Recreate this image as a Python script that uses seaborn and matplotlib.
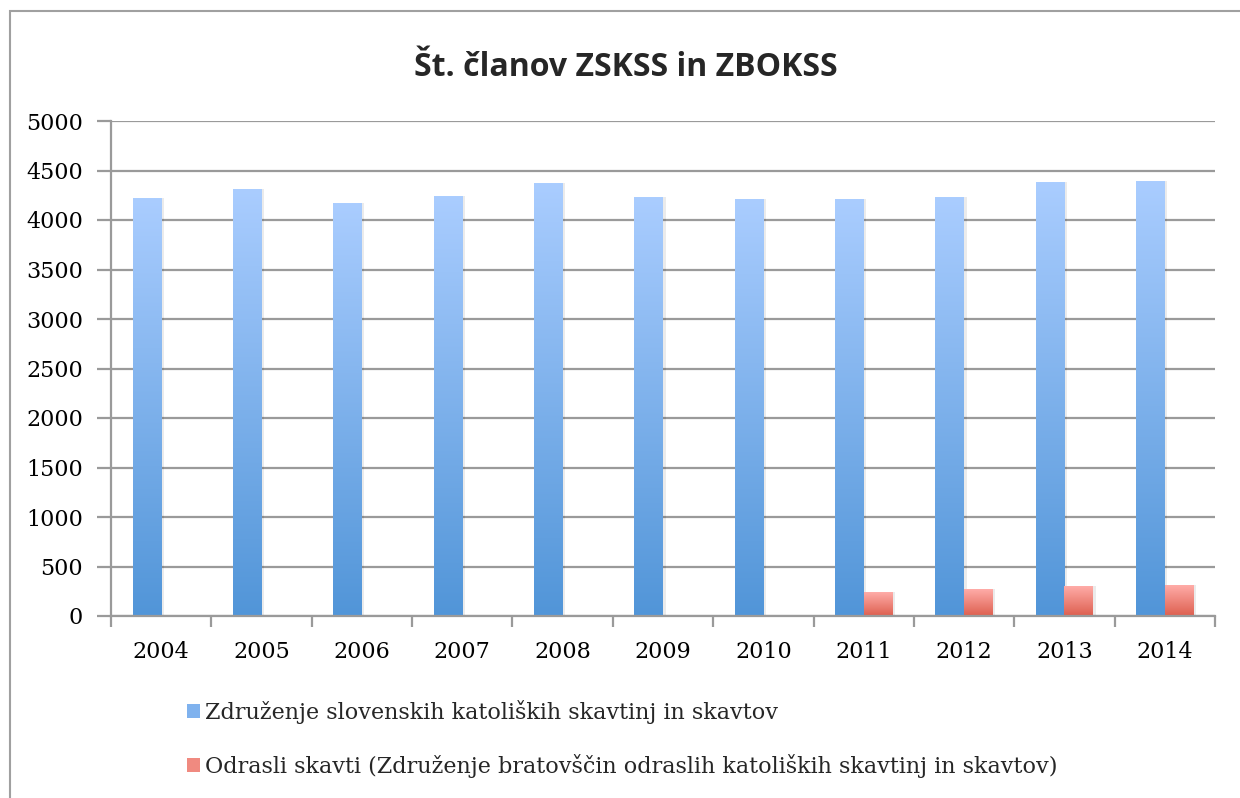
import numpy as np
import pandas as pd
import seaborn as sns
import matplotlib
import matplotlib.pyplot as plt
from matplotlib.colors import LinearSegmentedColormap
from matplotlib.patches import Patch, Rectangle
matplotlib.use('Agg')

sns.set_theme(style="white")
plt.rcParams['font.family'] = ['DejaVu Serif', 'Liberation Serif']

# data
years = ['2004', '2005', '2006', '2007', '2008', '2009', '2010', '2011', '2012', '2013', '2014']
zskss = [4220, 4310, 4170, 4240, 4370, 4230, 4210, 4210, 4230, 4380, 4390]
zbokss = [np.nan, np.nan, np.nan, np.nan, np.nan, np.nan, np.nan, 240, 270, 300, 310]
series = ['Združenje slovenskih katoliških skavtinj in skavtov',
          'Odrasli skavti (Združenje bratovščin odraslih katoliških skavtinj in skavtov)']

df = pd.DataFrame({
    'leto': years * 2,
    'serija': [series[0]] * len(years) + [series[1]] * len(years),
    'clani': zskss + zbokss,
})

grad_cols = {series[0]: ('#5195d8', '#aacdff'), series[1]: ('#dd5f4f', '#ffaca8')}
mid_cols = {series[0]: '#7fb2ee', series[1]: '#f08a80'}

fig = plt.figure(figsize=(12.4, 7.98), dpi=100)
ax = fig.add_axes([111 / 1240, 1 - 616 / 798, (1215 - 111) / 1240, (616 - 121) / 798])

sns.barplot(data=df, x='leto', y='clani', hue='serija', hue_order=series,
            order=years, palette=mid_cols, width=0.57, ax=ax, legend=False,
            linewidth=0, saturation=1)

# gradient fill of bars
for patch, ser in zip(ax.patches, [s for s in series for _ in years]):
    h = patch.get_height()
    if not np.isfinite(h) or h <= 0:
        continue
    x0 = patch.get_x()
    w = patch.get_width()
    cmap = LinearSegmentedColormap.from_list('g', grad_cols[ser])
    # soft shadow on the right
    ax.add_patch(Rectangle((x0 + w, 0), 0.025, h, facecolor='#000000', alpha=0.08,
                           linewidth=0, zorder=1.5))
    im = ax.imshow(np.linspace(0, 1, 256).reshape(-1, 1), cmap=cmap, origin='lower',
                   extent=(x0, x0 + w, 0, h), aspect='auto', zorder=2)
    im.set_clip_path(patch)
    patch.set_facecolor('none')

ax.set_xlim(-0.5, len(years) - 0.5)
ax.set_ylim(0, 5000)

ax.set_yticks(range(0, 5001, 500))
ax.yaxis.grid(True, color='#9a9a9a', linewidth=1.6)
ax.set_axisbelow(True)
ax.set_xlabel('')
ax.set_ylabel('')

for s in ['top', 'right']:
    ax.spines[s].set_visible(False)
for s in ['left', 'bottom']:
    ax.spines[s].set_color('#9a9a9a')
    ax.spines[s].set_linewidth(1.6)

ax.tick_params(axis='y', left=True, length=10, width=1.6, color='#9a9a9a',
               labelsize=16, pad=10, labelcolor='black')
ax.tick_params(axis='x', which='major', length=0, labelsize=16, pad=18, labelcolor='black')
ax.set_xticks(np.arange(-0.5, len(years), 1), minor=True)
ax.tick_params(axis='x', which='minor', bottom=True, length=8, width=1.6, color='#9a9a9a')

fig.text(626 / 1240, 1 - 68 / 798, 'Št. članov ZSKSS in ZBOKSS', ha='center', va='center',
         fontsize=23, fontweight='bold', family=['Open Sans', 'DejaVu Sans'])

handles = [Patch(facecolor=mid_cols[s], edgecolor='none') for s in series]
fig.legend(handles, series, loc='upper left', bbox_to_anchor=(187 / 1240, 1 - 700 / 798),
           frameon=False, fontsize=16, handlelength=0.6, handleheight=0.6,
           handletextpad=0.2, labelspacing=1.35, borderaxespad=0, borderpad=0)

# outer chart border
fig.patches.append(Rectangle((9.5 / 1240, -0.1), 1.2, 1 - 10.5 / 798 + 0.1,
                             transform=fig.transFigure, fill=False,
                             edgecolor='#a0a0a0', linewidth=1.5))

fig.savefig('out.png', dpi=100)
